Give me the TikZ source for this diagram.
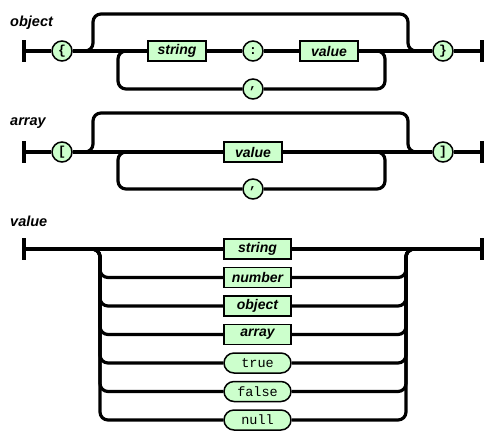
\documentclass[tikz,border=0pt]{standalone}
\usepackage{fontspec}
\setmainfont{Liberation Sans}
\setmonofont{Liberation Mono}
\usetikzlibrary{positioning}
\usetikzlibrary{shapes.misc}
\definecolor{railgreen}{RGB}{204,255,204}
\tikzset{
  rail/.style={line width=3.2pt, rounded corners=8pt},
  bar/.style={line width=3.5pt},
  nonterm/.style={draw, line width=1.5pt, fill=railgreen, minimum height=20pt, inner sep=0pt,
    font=\fontsize{14}{14}\selectfont\bfseries\itshape},
  term/.style={rounded rectangle, draw, line width=1.5pt, fill=railgreen, minimum width=67pt,
    minimum height=20pt, inner sep=0pt, font=\fontsize{13.5}{14}\selectfont\ttfamily},
  sym/.style={circle, draw, line width=1.5pt, fill=railgreen, minimum size=20pt, inner sep=0pt,
    font=\fontsize{13}{13}\selectfont\ttfamily\bfseries},
  title/.style={anchor=west, inner sep=0pt, font=\fontsize{14.5}{14.5}\selectfont\bfseries\itshape}
}

\begin{document}
\begin{tikzpicture}[x=1pt,y=-1pt]
\useasboundingbox (0,0) rectangle (500,440);

\node[title] (ob-title) at (10,23) {object};
\coordinate (ob-in) at (24,51);
\coordinate (ob-out) at (482,51);
\coordinate (ob-split) at (93,51);
\coordinate (ob-top) at (250,14);
\coordinate (ob-join) at (408,51);
\coordinate (ob-back) at (118,51);
\coordinate (ob-fwd) at (385,51);
\node[sym] (ob-open) at (62,51) {\{};
\node[nonterm, minimum width=58pt] (ob-key) at (177,51) {string};
\node[sym] (ob-colon) at (253,51) {:};
\node[nonterm, minimum width=58pt] (ob-val) at (329,51) {value};
\node[sym] (ob-comma) at (253,89) {,};
\node[sym] (ob-close) at (443,51) {\}};
\draw[bar] (24,40) -- (24,62);
\draw[bar] (482,40) -- (482,62);
\draw[rail] (ob-in) -- (ob-open) -- (ob-key) -- (ob-colon) -- (ob-val) -- (ob-close) -- (ob-out);
\draw[rail] (ob-open) -- (ob-split) |- (ob-top) -| (ob-join) -- (ob-close);
\draw[rail] (ob-comma) -| (ob-back) -- ++(14,0);
\draw[rail] (ob-comma) -| (ob-fwd) -- ++(-14,0);

\node[title] (ar-title) at (10,123) {array};
\coordinate (ar-in) at (24,152);
\coordinate (ar-out) at (482,152);
\coordinate (ar-split) at (93,152);
\coordinate (ar-top) at (250,113);
\coordinate (ar-join) at (408,152);
\coordinate (ar-back) at (118,152);
\coordinate (ar-fwd) at (385,152);
\node[sym] (ar-open) at (62,152) {[};
\node[nonterm, minimum width=58pt] (ar-val) at (253,152) {value};
\node[sym] (ar-comma) at (253,189) {,};
\node[sym] (ar-close) at (443,152) {]};
\draw[bar] (24,141) -- (24,163);
\draw[bar] (482,141) -- (482,163);
\draw[rail] (ar-in) -- (ar-open) -- (ar-val) -- (ar-close) -- (ar-out);
\draw[rail] (ar-open) -- (ar-split) |- (ar-top) -| (ar-join) -- (ar-close);
\draw[rail] (ar-comma) -| (ar-back) -- ++(14,0);
\draw[rail] (ar-comma) -| (ar-fwd) -- ++(-14,0);

\node[title] (va-title) at (10,221) {value};
\coordinate (va-in) at (24,249);
\coordinate (va-out) at (482,249);
\coordinate (va-split) at (100,249);
\coordinate (va-join) at (406,249);
\node[nonterm, minimum width=67pt] (va-str) at (257.5,249) {string};
\node[nonterm, minimum width=67pt] (va-num) at (257.5,277.5) {number};
\node[nonterm, minimum width=67pt] (va-obj) at (257.5,306) {object};
\node[nonterm, minimum width=67pt] (va-arr) at (257.5,334.5) {array};
\node[term] (va-true) at (257.5,363) {true};
\node[term] (va-false) at (257.5,391.5) {false};
\node[term] (va-null) at (257.5,420) {null};
\draw[bar] (24,238) -- (24,260);
\draw[bar] (482,238) -- (482,260);
\draw[rail] (va-in) -- (va-str) -- (va-out);
\foreach \n in {va-num,va-obj,va-arr,va-true,va-false,va-null}
  \draw[rail] (va-in) -- (va-split) |- (\n) -| (va-join) -- (va-out);
\end{tikzpicture}
\end{document}
